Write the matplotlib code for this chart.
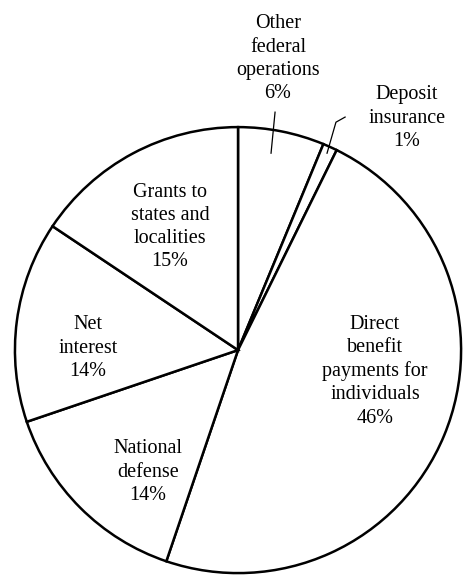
import matplotlib.pyplot as plt

# Federal spending shares, clockwise from 12 o'clock
labels = [
    "Other\nfederal\noperations\n6%",
    "Deposit\ninsurance\n1%",
    "Direct\nbenefit\npayments for\nindividuals\n46%",
    "National\ndefense\n14%",
    "Net\ninterest\n14%",
    "Grants to\nstates and\nlocalities\n15%",
]
shares = [6, 1, 46, 14, 14, 15]

# where each label block sits (data units, pie radius = 1)
label_pos = [
    (0.179, 1.307),
    (0.758, 1.040),
    (0.614, -0.094),
    (-0.404, -0.547),
    (-0.673, 0.009),
    (-0.305, 0.552),
]

plt.rcParams['font.family'] = ['Liberation Serif', 'DejaVu Serif']

fig = plt.figure(figsize=(4.64, 5.76), dpi=100)
ax = fig.add_axes([0, 0, 1, 1])

ax.pie(shares, startangle=90, counterclock=False, radius=1,
       wedgeprops=dict(facecolor='white', edgecolor='black', linewidth=1.8))

for text, (x, y) in zip(labels, label_pos):
    ax.text(x, y, text, ha='center', va='center', fontsize=14.5,
            linespacing=1.3, color='black')

# leader lines for the two small slices
ax.plot([0.166, 0.148], [1.067, 0.883], color='black', lw=0.9)
ax.plot([0.480, 0.439, 0.399], [1.045, 1.022, 0.883], color='black', lw=0.9)

ax.set_xlim(-1.067, 1.013)
ax.set_ylim(-1.013, 1.570)
ax.set_aspect('auto')
ax.axis('off')

plt.savefig('out.png', dpi=100, facecolor='white')
